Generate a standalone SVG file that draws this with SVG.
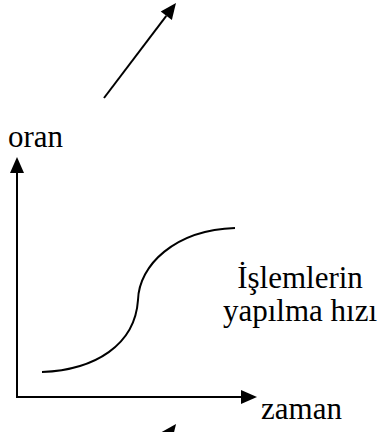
<svg xmlns="http://www.w3.org/2000/svg" width="382" height="432" viewBox="0 0 382 432">
  <defs>
    <marker id="ah" markerUnits="userSpaceOnUse" markerWidth="16" markerHeight="14" refX="0" refY="7" orient="auto" overflow="visible">
      <path d="M0,0 L16,7 L0,14 z" fill="#000"/>
    </marker>
    <style>
      .ln{stroke:#000;stroke-width:2;fill:none}
      .ar{marker-end:url(#ah)}
      .t{font-family:"Liberation Serif","Times New Roman",serif;font-size:31px;fill:#000}
    </style>
  </defs>
  <rect width="382" height="432" fill="#fff"/>
  <g id="connectors">
    <line class="ln ar" x1="104" y1="98" x2="166.3" y2="15.8"/>
    <line class="ln ar" x1="140" y1="471" x2="166.3" y2="436.8"/>
    <line class="ln ar" x1="17" y1="398" x2="17" y2="173"/>
    <line class="ln ar" x1="16" y1="397" x2="241" y2="397"/>
  </g>
  <g id="curve">
    <path class="ln" d="M42,372 C95,370 135,345 138,300 C139,265 175,230 235,228"/>
  </g>
  <g id="label-oran">
    <text class="t" x="8" y="147">oran</text>
  </g>
  <g id="label-zaman">
    <text class="t" x="261" y="419">zaman</text>
  </g>
  <g id="label-hiz">
    <text class="t" x="300" y="288" text-anchor="middle">İşlemlerin</text>
    <text class="t" x="300" y="321" text-anchor="middle">yapılma hızı</text>
  </g>
</svg>
